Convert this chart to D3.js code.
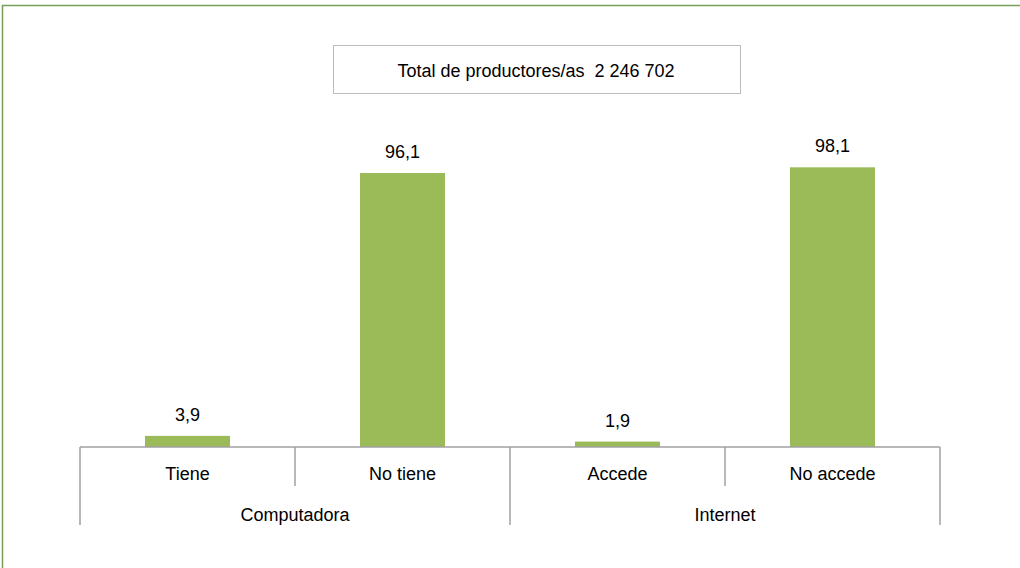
<!DOCTYPE html>
<html>
<head>
<meta charset="utf-8">
<script src="https://cdn.jsdelivr.net/npm/d3@7"></script>
<style>
  html, body { margin: 0; padding: 0; background: #fff; }
  svg { display: block; font-family: "Liberation Sans", Arial, sans-serif; }
  text { white-space: pre; }
</style>
</head>
<body>
<svg id="chart" width="1020" height="568"></svg>
<script>
const categories = ["Tiene", "No tiene", "Accede", "No accede"];
const groups = ["Computadora", "Computadora", "Internet", "Internet"];
const groupNames = ["Computadora", "Internet"];
const values = [3.9, 96.1, 1.9, 98.1];
const valueLabels = ["3,9", "96,1", "1,9", "98,1"];
const titleText = "Total de productores/as  2 246 702";

const svg = d3.select("#chart");
const left = 80, right = 940, base = 447;
const fs = 18;

// outer frame
svg.append("path")
  .attr("d", `M2.5,568 L2.5,5.5 L1020,5.5`)
  .attr("fill", "none").attr("stroke", "#76a05a").attr("stroke-width", 1.5);

const x = d3.scaleBand().domain(categories).range([left, right]).paddingInner(0).paddingOuter(0);
const y = d3.scaleLinear().domain([0, 100]).range([base, base - 285.1]);
const barW = 85;

// bars
svg.append("g").selectAll("rect").data(values).join("rect")
  .attr("x", (d, i) => x(categories[i]) + (x.bandwidth() - barW) / 2)
  .attr("width", barW)
  .attr("y", d => y(d))
  .attr("height", d => y(0) - y(d))
  .attr("fill", "#9bbb59");

// value labels
svg.append("g").selectAll("text").data(values).join("text")
  .attr("x", (d, i) => x(categories[i]) + x.bandwidth() / 2)
  .attr("y", d => y(d) - 15)
  .attr("text-anchor", "middle")
  .attr("font-size", fs)
  .attr("fill", "#000")
  .text((d, i) => valueLabels[i]);

// axis line
const axisColor = "#a0a0a0";
svg.append("line").attr("x1", left).attr("x2", right).attr("y1", base).attr("y2", base)
  .attr("stroke", axisColor).attr("stroke-width", 1.5);

// separators
const bounds = categories.map(c => x(c)).concat([right]);
bounds.forEach((bx, i) => {
  const outer = (i === 0 || i === bounds.length - 1 || groups[i] !== groups[i - 1]);
  svg.append("line")
    .attr("x1", bx).attr("x2", bx)
    .attr("y1", base).attr("y2", outer ? 525 : 486)
    .attr("stroke", axisColor).attr("stroke-width", 1.5);
});

// category labels
svg.append("g").selectAll("text").data(categories).join("text")
  .attr("x", d => x(d) + x.bandwidth() / 2)
  .attr("y", 480)
  .attr("text-anchor", "middle")
  .attr("font-size", fs)
  .text(d => d);

// group labels
groupNames.forEach(g => {
  const cats = categories.filter((c, i) => groups[i] === g);
  const gx0 = x(cats[0]), gx1 = x(cats[cats.length - 1]) + x.bandwidth();
  svg.append("text")
    .attr("x", (gx0 + gx1) / 2)
    .attr("y", 521)
    .attr("text-anchor", "middle")
    .attr("font-size", fs)
    .text(g);
});

// title box
svg.append("rect").attr("x", 333.5).attr("y", 45.5).attr("width", 407).attr("height", 48)
  .attr("fill", "#fff").attr("stroke", "#bcbcbc").attr("stroke-width", 1);
svg.append("text").attr("x", 536).attr("y", 77)
  .attr("text-anchor", "middle").attr("font-size", fs)
  .text(titleText);
</script>
</body>
</html>
